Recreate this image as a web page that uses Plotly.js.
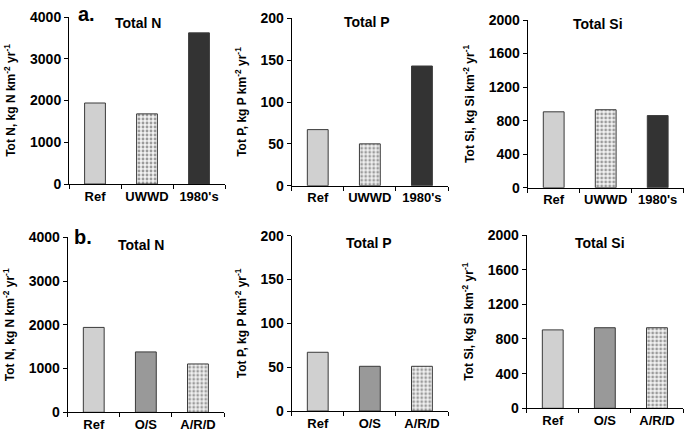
<!DOCTYPE html>
<html><head><meta charset="utf-8">
<script src="https://cdn.plot.ly/plotly-3.0.1.min.js"></script>
<style>html,body{margin:0;padding:0;background:#fff}#chart{width:685px;height:437px}</style>
</head><body><div id="chart"></div>
<script>
const catsA = ["Ref", "UWWD", "1980's"];
const catsB = ["Ref", "O/S", "A/R/D"];
const totalN_A = [1940, 1680, 3620];
const totalP_A = [67, 50, 143];
const totalSi_A = [905, 930, 860];
const totalN_B = [1940, 1380, 1105];
const totalP_B = [67, 51, 51];
const totalSi_B = [905, 930, 930];
const panelTitles = ["Total N", "Total P", "Total Si", "Total N", "Total P", "Total Si"];
const yTitles = ["Tot N, kg N km<sup>-2</sup> yr<sup>-1</sup>", "Tot P, kg P km<sup>-2</sup> yr<sup>-1</sup>", "Tot Si, kg Si km<sup>-2</sup> yr<sup>-1</sup>"];
const yRanges = [[0, 4000], [0, 200], [0, 2000]];
const yTicks = [[0, 1000, 2000, 3000, 4000], [0, 50, 100, 150, 200], [0, 400, 800, 1200, 1600, 2000]];

const LIGHT = "#d0d0d0", DARK = "#333333", MID = "#999999", DOT = "#f2f2f2";
const colorsA = [LIGHT, DOT, DARK];
const shapesA = ["", ".", ""];
const colorsB = [LIGHT, MID, DOT];
const shapesB = ["", "", "."];

const W = 685, H = 437;
// pixel boxes [x0, x1, yTop, yBottom]
const boxes = [
  [69, 225, 17, 184],
  [291.7, 448, 18.3, 185.7],
  [527.7, 683.7, 20, 187.7],
  [67.7, 224, 237.3, 412.3],
  [291.7, 448, 235.7, 411],
  [526.7, 683, 235, 408.3]
];
const series = [totalN_A, totalP_A, totalSi_A, totalN_B, totalP_B, totalSi_B];
const FONT = "Liberation Sans";
const data = [];
const layout = {
  width: W, height: H, margin: {l: 0, r: 0, t: 0, b: 0},
  paper_bgcolor: "#fff", plot_bgcolor: "#fff", showlegend: false,
  bargap: 0.6, font: {family: FONT, color: "#000", size: 13},
  annotations: []
};
for (let i = 0; i < 6; i++) {
  const row = i < 3 ? 0 : 1;
  const col = i % 3;
  const n = i + 1;
  const xa = "x" + (n === 1 ? "" : n), ya = "y" + (n === 1 ? "" : n);
  data.push({
    type: "bar", x: row === 0 ? catsA : catsB, y: series[i], xaxis: xa, yaxis: ya,
    marker: {
      color: row === 0 ? colorsA : colorsB,
      line: {color: "#3a3a3a", width: 1},
      pattern: {shape: row === 0 ? shapesA : shapesB, fillmode: "overlay", fgcolor: "#4a4a4a", size: 4, solidity: 0.4}
    },
    hoverinfo: "skip"
  });
  const b = boxes[i];
  layout["xaxis" + (n === 1 ? "" : n)] = {
    domain: [b[0] / W, b[1] / W], anchor: ya, type: "category", range: [-0.5, 2.5],
    showline: true, linecolor: "#000", linewidth: 1, ticks: "outside", tickson: "boundaries",
    ticklen: 4, tickcolor: "#000", showgrid: false, zeroline: false, fixedrange: true,
    tickangle: 0,
    tickfont: {family: FONT, size: 13, color: "#000", weight: 700}
  };
  layout["yaxis" + (n === 1 ? "" : n)] = {
    domain: [1 - b[3] / H, 1 - b[2] / H], anchor: xa, range: yRanges[col],
    tickvals: yTicks[col], showline: true, linecolor: "#000", linewidth: 1,
    ticks: "outside", ticklen: 4, tickcolor: "#000", showgrid: false, zeroline: false,
    tickfont: {family: FONT, size: 14, color: "#000", weight: 700},
    title: {text: yTitles[col], standoff: 11, font: {family: FONT, size: 12, color: "#000", weight: 700}},
    fixedrange: true
  };
}
const titlePos = [[137.5, 23], [367.5, 22], [598, 24], [141, 245], [369, 243], [600, 243]];
for (let i = 0; i < 6; i++) {
  layout.annotations.push({
    text: "<b>" + panelTitles[i] + "</b>", xref: "paper", yref: "paper",
    x: titlePos[i][0] / W, y: 1 - titlePos[i][1] / H, xanchor: "center", yanchor: "middle",
    showarrow: false, font: {family: FONT, size: 14, color: "#000"}
  });
}
layout.annotations.push({text: "<b>a.</b>", xref: "paper", yref: "paper", x: 87 / W, y: 1 - 14 / H,
  xanchor: "center", yanchor: "middle", showarrow: false, font: {family: FONT, size: 20, color: "#000"}});
layout.annotations.push({text: "<b>b.</b>", xref: "paper", yref: "paper", x: 83 / W, y: 1 - 237 / H,
  xanchor: "center", yanchor: "middle", showarrow: false, font: {family: FONT, size: 20, color: "#000"}});
Plotly.newPlot("chart", data, layout, {staticPlot: true, displayModeBar: false});
</script></body></html>
